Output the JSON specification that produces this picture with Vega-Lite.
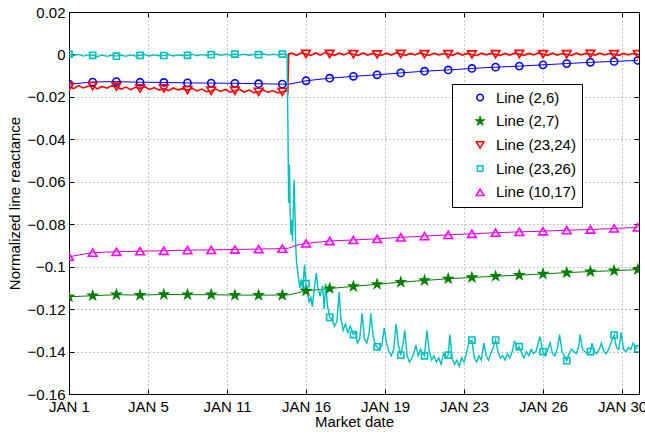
{
  "$schema": "https://vega.github.io/schema/vega-lite/v6.json",
  "width": 570,
  "height": 382,
  "autosize": "none",
  "padding": {"left": 69, "top": 12, "right": 6, "bottom": 41},
  "background": "white",
  "config": {
    "font": "Liberation Sans",
    "view": {"stroke": "black", "strokeWidth": 1},
    "axis": {
      "labelFont": "Liberation Sans",
      "labelFontSize": 15,
      "labelColor": "black",
      "titleFont": "Liberation Sans",
      "titleFontSize": 15,
      "titleFontWeight": "normal",
      "titleColor": "black",
      "domainColor": "black",
      "tickColor": "black",
      "gridColor": "#8a8a8a",
      "gridDash": [1, 3],
      "gridWidth": 1
    },
    "legend": {
      "orient": "none",
      "legendX": 383,
      "legendY": 72,
      "labelFont": "Liberation Sans",
      "labelFontSize": 15,
      "labelColor": "black",
      "strokeColor": "black",
      "fillColor": "white",
      "padding": 6,
      "symbolOffset": 14.6,
      "labelOffset": 8.3,
      "rowPadding": 7.7,
      "symbolSize": 42,
      "symbolStrokeWidth": 1.5
    }
  },
  "datasets": {
    "lines": [
      {"h": 0, "v": -0.0140, "s": "Line (2,6)"},
      {"h": 30, "v": -0.0130, "s": "Line (2,6)"},
      {"h": 60, "v": -0.0128, "s": "Line (2,6)"},
      {"h": 90, "v": -0.0131, "s": "Line (2,6)"},
      {"h": 120, "v": -0.0132, "s": "Line (2,6)"},
      {"h": 150, "v": -0.0134, "s": "Line (2,6)"},
      {"h": 180, "v": -0.0135, "s": "Line (2,6)"},
      {"h": 210, "v": -0.0136, "s": "Line (2,6)"},
      {"h": 240, "v": -0.0138, "s": "Line (2,6)"},
      {"h": 270, "v": -0.0140, "s": "Line (2,6)"},
      {"h": 278, "v": -0.0141, "s": "Line (2,6)"},
      {"h": 300, "v": -0.0124, "s": "Line (2,6)"},
      {"h": 330, "v": -0.0112, "s": "Line (2,6)"},
      {"h": 360, "v": -0.0103, "s": "Line (2,6)"},
      {"h": 390, "v": -0.0096, "s": "Line (2,6)"},
      {"h": 420, "v": -0.0087, "s": "Line (2,6)"},
      {"h": 450, "v": -0.0079, "s": "Line (2,6)"},
      {"h": 480, "v": -0.0073, "s": "Line (2,6)"},
      {"h": 510, "v": -0.0066, "s": "Line (2,6)"},
      {"h": 540, "v": -0.0060, "s": "Line (2,6)"},
      {"h": 570, "v": -0.0055, "s": "Line (2,6)"},
      {"h": 600, "v": -0.0049, "s": "Line (2,6)"},
      {"h": 630, "v": -0.0043, "s": "Line (2,6)"},
      {"h": 660, "v": -0.0037, "s": "Line (2,6)"},
      {"h": 690, "v": -0.0033, "s": "Line (2,6)"},
      {"h": 720, "v": -0.0028, "s": "Line (2,6)"},

      {"h": 0, "v": -0.1142, "s": "Line (2,7)"},
      {"h": 30, "v": -0.1137, "s": "Line (2,7)"},
      {"h": 60, "v": -0.1132, "s": "Line (2,7)"},
      {"h": 90, "v": -0.1134, "s": "Line (2,7)"},
      {"h": 120, "v": -0.1131, "s": "Line (2,7)"},
      {"h": 150, "v": -0.1132, "s": "Line (2,7)"},
      {"h": 180, "v": -0.1132, "s": "Line (2,7)"},
      {"h": 210, "v": -0.1134, "s": "Line (2,7)"},
      {"h": 240, "v": -0.1134, "s": "Line (2,7)"},
      {"h": 270, "v": -0.1134, "s": "Line (2,7)"},
      {"h": 278, "v": -0.1133, "s": "Line (2,7)"},
      {"h": 300, "v": -0.1114, "s": "Line (2,7)"},
      {"h": 330, "v": -0.1103, "s": "Line (2,7)"},
      {"h": 360, "v": -0.1093, "s": "Line (2,7)"},
      {"h": 390, "v": -0.1083, "s": "Line (2,7)"},
      {"h": 420, "v": -0.1073, "s": "Line (2,7)"},
      {"h": 450, "v": -0.1065, "s": "Line (2,7)"},
      {"h": 480, "v": -0.1057, "s": "Line (2,7)"},
      {"h": 510, "v": -0.1051, "s": "Line (2,7)"},
      {"h": 540, "v": -0.1045, "s": "Line (2,7)"},
      {"h": 570, "v": -0.1040, "s": "Line (2,7)"},
      {"h": 600, "v": -0.1034, "s": "Line (2,7)"},
      {"h": 630, "v": -0.1028, "s": "Line (2,7)"},
      {"h": 660, "v": -0.1023, "s": "Line (2,7)"},
      {"h": 690, "v": -0.1019, "s": "Line (2,7)"},
      {"h": 720, "v": -0.1014, "s": "Line (2,7)"},

      {"h": 0, "v": -0.0152, "s": "Line (23,24)"},
      {"h": 6, "v": -0.0161, "s": "Line (23,24)"},
      {"h": 12, "v": -0.0147, "s": "Line (23,24)"},
      {"h": 18, "v": -0.0158, "s": "Line (23,24)"},
      {"h": 24, "v": -0.0150, "s": "Line (23,24)"},
      {"h": 30, "v": -0.0149, "s": "Line (23,24)"},
      {"h": 36, "v": -0.0162, "s": "Line (23,24)"},
      {"h": 42, "v": -0.0151, "s": "Line (23,24)"},
      {"h": 48, "v": -0.0159, "s": "Line (23,24)"},
      {"h": 54, "v": -0.0148, "s": "Line (23,24)"},
      {"h": 60, "v": -0.0152, "s": "Line (23,24)"},
      {"h": 66, "v": -0.0163, "s": "Line (23,24)"},
      {"h": 72, "v": -0.0154, "s": "Line (23,24)"},
      {"h": 78, "v": -0.0166, "s": "Line (23,24)"},
      {"h": 84, "v": -0.0155, "s": "Line (23,24)"},
      {"h": 90, "v": -0.0160, "s": "Line (23,24)"},
      {"h": 96, "v": -0.0152, "s": "Line (23,24)"},
      {"h": 102, "v": -0.0165, "s": "Line (23,24)"},
      {"h": 108, "v": -0.0156, "s": "Line (23,24)"},
      {"h": 114, "v": -0.0168, "s": "Line (23,24)"},
      {"h": 120, "v": -0.0160, "s": "Line (23,24)"},
      {"h": 126, "v": -0.0170, "s": "Line (23,24)"},
      {"h": 132, "v": -0.0158, "s": "Line (23,24)"},
      {"h": 138, "v": -0.0167, "s": "Line (23,24)"},
      {"h": 144, "v": -0.0161, "s": "Line (23,24)"},
      {"h": 150, "v": -0.0168, "s": "Line (23,24)"},
      {"h": 156, "v": -0.0160, "s": "Line (23,24)"},
      {"h": 162, "v": -0.0172, "s": "Line (23,24)"},
      {"h": 168, "v": -0.0163, "s": "Line (23,24)"},
      {"h": 174, "v": -0.0175, "s": "Line (23,24)"},
      {"h": 180, "v": -0.0171, "s": "Line (23,24)"},
      {"h": 186, "v": -0.0163, "s": "Line (23,24)"},
      {"h": 192, "v": -0.0174, "s": "Line (23,24)"},
      {"h": 198, "v": -0.0165, "s": "Line (23,24)"},
      {"h": 204, "v": -0.0178, "s": "Line (23,24)"},
      {"h": 210, "v": -0.0171, "s": "Line (23,24)"},
      {"h": 216, "v": -0.0165, "s": "Line (23,24)"},
      {"h": 222, "v": -0.0177, "s": "Line (23,24)"},
      {"h": 228, "v": -0.0168, "s": "Line (23,24)"},
      {"h": 234, "v": -0.0180, "s": "Line (23,24)"},
      {"h": 240, "v": -0.0176, "s": "Line (23,24)"},
      {"h": 246, "v": -0.0168, "s": "Line (23,24)"},
      {"h": 252, "v": -0.0179, "s": "Line (23,24)"},
      {"h": 258, "v": -0.0170, "s": "Line (23,24)"},
      {"h": 264, "v": -0.0181, "s": "Line (23,24)"},
      {"h": 270, "v": -0.0176, "s": "Line (23,24)"},
      {"h": 276, "v": -0.0172, "s": "Line (23,24)"},
      {"h": 277, "v": -0.0178, "s": "Line (23,24)"},
      {"h": 278, "v": 0.0003, "s": "Line (23,24)"},
      {"h": 282, "v": 0.0006, "s": "Line (23,24)"},
      {"h": 288, "v": -0.0004, "s": "Line (23,24)"},
      {"h": 294, "v": 0.0008, "s": "Line (23,24)"},
      {"h": 300, "v": 0.0002, "s": "Line (23,24)"},
      {"h": 306, "v": -0.0005, "s": "Line (23,24)"},
      {"h": 312, "v": 0.0007, "s": "Line (23,24)"},
      {"h": 318, "v": -0.0003, "s": "Line (23,24)"},
      {"h": 324, "v": 0.0009, "s": "Line (23,24)"},
      {"h": 330, "v": 0.0002, "s": "Line (23,24)"},
      {"h": 336, "v": -0.0004, "s": "Line (23,24)"},
      {"h": 342, "v": 0.0006, "s": "Line (23,24)"},
      {"h": 348, "v": -0.0002, "s": "Line (23,24)"},
      {"h": 354, "v": 0.0008, "s": "Line (23,24)"},
      {"h": 360, "v": 0.0001, "s": "Line (23,24)"},
      {"h": 366, "v": -0.0005, "s": "Line (23,24)"},
      {"h": 372, "v": 0.0007, "s": "Line (23,24)"},
      {"h": 378, "v": -0.0003, "s": "Line (23,24)"},
      {"h": 384, "v": 0.0005, "s": "Line (23,24)"},
      {"h": 390, "v": 0.0000, "s": "Line (23,24)"},
      {"h": 396, "v": -0.0004, "s": "Line (23,24)"},
      {"h": 402, "v": 0.0006, "s": "Line (23,24)"},
      {"h": 408, "v": -0.0003, "s": "Line (23,24)"},
      {"h": 414, "v": 0.0008, "s": "Line (23,24)"},
      {"h": 420, "v": 0.0002, "s": "Line (23,24)"},
      {"h": 426, "v": -0.0004, "s": "Line (23,24)"},
      {"h": 432, "v": 0.0005, "s": "Line (23,24)"},
      {"h": 438, "v": -0.0002, "s": "Line (23,24)"},
      {"h": 444, "v": 0.0007, "s": "Line (23,24)"},
      {"h": 450, "v": 0.0001, "s": "Line (23,24)"},
      {"h": 456, "v": -0.0005, "s": "Line (23,24)"},
      {"h": 462, "v": 0.0006, "s": "Line (23,24)"},
      {"h": 468, "v": -0.0002, "s": "Line (23,24)"},
      {"h": 474, "v": 0.0004, "s": "Line (23,24)"},
      {"h": 480, "v": 0.0001, "s": "Line (23,24)"},
      {"h": 486, "v": -0.0004, "s": "Line (23,24)"},
      {"h": 492, "v": 0.0007, "s": "Line (23,24)"},
      {"h": 498, "v": -0.0003, "s": "Line (23,24)"},
      {"h": 504, "v": 0.0005, "s": "Line (23,24)"},
      {"h": 510, "v": 0.0000, "s": "Line (23,24)"},
      {"h": 516, "v": -0.0005, "s": "Line (23,24)"},
      {"h": 522, "v": 0.0006, "s": "Line (23,24)"},
      {"h": 528, "v": -0.0002, "s": "Line (23,24)"},
      {"h": 534, "v": 0.0004, "s": "Line (23,24)"},
      {"h": 540, "v": 0.0001, "s": "Line (23,24)"},
      {"h": 546, "v": -0.0004, "s": "Line (23,24)"},
      {"h": 552, "v": 0.0005, "s": "Line (23,24)"},
      {"h": 558, "v": -0.0003, "s": "Line (23,24)"},
      {"h": 564, "v": 0.0006, "s": "Line (23,24)"},
      {"h": 570, "v": 0.0002, "s": "Line (23,24)"},
      {"h": 576, "v": -0.0004, "s": "Line (23,24)"},
      {"h": 582, "v": 0.0005, "s": "Line (23,24)"},
      {"h": 588, "v": -0.0002, "s": "Line (23,24)"},
      {"h": 594, "v": 0.0007, "s": "Line (23,24)"},
      {"h": 600, "v": 0.0001, "s": "Line (23,24)"},
      {"h": 606, "v": -0.0004, "s": "Line (23,24)"},
      {"h": 612, "v": 0.0006, "s": "Line (23,24)"},
      {"h": 618, "v": -0.0003, "s": "Line (23,24)"},
      {"h": 624, "v": 0.0004, "s": "Line (23,24)"},
      {"h": 630, "v": 0.0001, "s": "Line (23,24)"},
      {"h": 636, "v": -0.0005, "s": "Line (23,24)"},
      {"h": 642, "v": 0.0006, "s": "Line (23,24)"},
      {"h": 648, "v": -0.0002, "s": "Line (23,24)"},
      {"h": 654, "v": 0.0005, "s": "Line (23,24)"},
      {"h": 660, "v": 0.0002, "s": "Line (23,24)"},
      {"h": 666, "v": -0.0003, "s": "Line (23,24)"},
      {"h": 672, "v": 0.0006, "s": "Line (23,24)"},
      {"h": 678, "v": -0.0002, "s": "Line (23,24)"},
      {"h": 684, "v": 0.0004, "s": "Line (23,24)"},
      {"h": 690, "v": 0.0001, "s": "Line (23,24)"},
      {"h": 696, "v": -0.0004, "s": "Line (23,24)"},
      {"h": 702, "v": 0.0005, "s": "Line (23,24)"},
      {"h": 708, "v": -0.0002, "s": "Line (23,24)"},
      {"h": 714, "v": 0.0004, "s": "Line (23,24)"},
      {"h": 720, "v": 0.0001, "s": "Line (23,24)"},

      {"h": 0, "v": 0.0002, "s": "Line (23,26)"},
      {"h": 6, "v": -0.0006, "s": "Line (23,26)"},
      {"h": 12, "v": 0.0000, "s": "Line (23,26)"},
      {"h": 18, "v": -0.0008, "s": "Line (23,26)"},
      {"h": 24, "v": -0.0002, "s": "Line (23,26)"},
      {"h": 30, "v": -0.0004, "s": "Line (23,26)"},
      {"h": 36, "v": -0.0010, "s": "Line (23,26)"},
      {"h": 42, "v": -0.0003, "s": "Line (23,26)"},
      {"h": 48, "v": -0.0009, "s": "Line (23,26)"},
      {"h": 54, "v": -0.0004, "s": "Line (23,26)"},
      {"h": 60, "v": -0.0008, "s": "Line (23,26)"},
      {"h": 66, "v": -0.0003, "s": "Line (23,26)"},
      {"h": 72, "v": -0.0009, "s": "Line (23,26)"},
      {"h": 78, "v": -0.0002, "s": "Line (23,26)"},
      {"h": 84, "v": -0.0007, "s": "Line (23,26)"},
      {"h": 90, "v": -0.0004, "s": "Line (23,26)"},
      {"h": 96, "v": -0.0001, "s": "Line (23,26)"},
      {"h": 102, "v": -0.0007, "s": "Line (23,26)"},
      {"h": 108, "v": -0.0002, "s": "Line (23,26)"},
      {"h": 114, "v": -0.0006, "s": "Line (23,26)"},
      {"h": 120, "v": -0.0005, "s": "Line (23,26)"},
      {"h": 126, "v": -0.0001, "s": "Line (23,26)"},
      {"h": 132, "v": -0.0007, "s": "Line (23,26)"},
      {"h": 138, "v": -0.0002, "s": "Line (23,26)"},
      {"h": 144, "v": -0.0005, "s": "Line (23,26)"},
      {"h": 150, "v": -0.0004, "s": "Line (23,26)"},
      {"h": 156, "v": 0.0000, "s": "Line (23,26)"},
      {"h": 162, "v": -0.0006, "s": "Line (23,26)"},
      {"h": 168, "v": -0.0001, "s": "Line (23,26)"},
      {"h": 174, "v": -0.0004, "s": "Line (23,26)"},
      {"h": 180, "v": -0.0001, "s": "Line (23,26)"},
      {"h": 186, "v": 0.0002, "s": "Line (23,26)"},
      {"h": 192, "v": -0.0004, "s": "Line (23,26)"},
      {"h": 198, "v": 0.0001, "s": "Line (23,26)"},
      {"h": 204, "v": -0.0003, "s": "Line (23,26)"},
      {"h": 210, "v": 0.0002, "s": "Line (23,26)"},
      {"h": 216, "v": -0.0003, "s": "Line (23,26)"},
      {"h": 222, "v": 0.0001, "s": "Line (23,26)"},
      {"h": 228, "v": -0.0004, "s": "Line (23,26)"},
      {"h": 234, "v": 0.0000, "s": "Line (23,26)"},
      {"h": 240, "v": -0.0001, "s": "Line (23,26)"},
      {"h": 246, "v": 0.0003, "s": "Line (23,26)"},
      {"h": 252, "v": -0.0003, "s": "Line (23,26)"},
      {"h": 258, "v": 0.0001, "s": "Line (23,26)"},
      {"h": 264, "v": -0.0002, "s": "Line (23,26)"},
      {"h": 270, "v": 0.0002, "s": "Line (23,26)"},
      {"h": 276, "v": -0.0001, "s": "Line (23,26)"},
      {"h": 277, "v": -0.0300, "s": "Line (23,26)"},
      {"h": 278, "v": -0.0700, "s": "Line (23,26)"},
      {"h": 279, "v": -0.0520, "s": "Line (23,26)"},
      {"h": 280, "v": -0.0750, "s": "Line (23,26)"},
      {"h": 281, "v": -0.0850, "s": "Line (23,26)"},
      {"h": 282, "v": -0.0780, "s": "Line (23,26)"},
      {"h": 283, "v": -0.0880, "s": "Line (23,26)"},
      {"h": 284, "v": -0.0700, "s": "Line (23,26)"},
      {"h": 285, "v": -0.0590, "s": "Line (23,26)"},
      {"h": 286, "v": -0.0750, "s": "Line (23,26)"},
      {"h": 287, "v": -0.0900, "s": "Line (23,26)"},
      {"h": 288, "v": -0.0980, "s": "Line (23,26)"},
      {"h": 290, "v": -0.1040, "s": "Line (23,26)"},
      {"h": 292, "v": -0.1100, "s": "Line (23,26)"},
      {"h": 294, "v": -0.1060, "s": "Line (23,26)"},
      {"h": 296, "v": -0.1120, "s": "Line (23,26)"},
      {"h": 298, "v": -0.0990, "s": "Line (23,26)"},
      {"h": 300, "v": -0.1080, "s": "Line (23,26)"},
      {"h": 302, "v": -0.1120, "s": "Line (23,26)"},
      {"h": 304, "v": -0.1170, "s": "Line (23,26)"},
      {"h": 306, "v": -0.1140, "s": "Line (23,26)"},
      {"h": 308, "v": -0.1190, "s": "Line (23,26)"},
      {"h": 310, "v": -0.1120, "s": "Line (23,26)"},
      {"h": 312, "v": -0.1060, "s": "Line (23,26)"},
      {"h": 313, "v": -0.1030, "s": "Line (23,26)"},
      {"h": 315, "v": -0.1100, "s": "Line (23,26)"},
      {"h": 318, "v": -0.1140, "s": "Line (23,26)"},
      {"h": 321, "v": -0.1090, "s": "Line (23,26)"},
      {"h": 323, "v": -0.1200, "s": "Line (23,26)"},
      {"h": 325, "v": -0.1080, "s": "Line (23,26)"},
      {"h": 327, "v": -0.1180, "s": "Line (23,26)"},
      {"h": 330, "v": -0.1239, "s": "Line (23,26)"},
      {"h": 333, "v": -0.1250, "s": "Line (23,26)"},
      {"h": 336, "v": -0.1280, "s": "Line (23,26)"},
      {"h": 339, "v": -0.1260, "s": "Line (23,26)"},
      {"h": 342, "v": -0.1120, "s": "Line (23,26)"},
      {"h": 344, "v": -0.1240, "s": "Line (23,26)"},
      {"h": 347, "v": -0.1300, "s": "Line (23,26)"},
      {"h": 350, "v": -0.1270, "s": "Line (23,26)"},
      {"h": 353, "v": -0.1310, "s": "Line (23,26)"},
      {"h": 356, "v": -0.1280, "s": "Line (23,26)"},
      {"h": 360, "v": -0.1320, "s": "Line (23,26)"},
      {"h": 363, "v": -0.1310, "s": "Line (23,26)"},
      {"h": 365, "v": -0.1360, "s": "Line (23,26)"},
      {"h": 368, "v": -0.1340, "s": "Line (23,26)"},
      {"h": 371, "v": -0.1220, "s": "Line (23,26)"},
      {"h": 374, "v": -0.1340, "s": "Line (23,26)"},
      {"h": 377, "v": -0.1360, "s": "Line (23,26)"},
      {"h": 380, "v": -0.1310, "s": "Line (23,26)"},
      {"h": 382, "v": -0.1220, "s": "Line (23,26)"},
      {"h": 385, "v": -0.1330, "s": "Line (23,26)"},
      {"h": 388, "v": -0.1370, "s": "Line (23,26)"},
      {"h": 390, "v": -0.1378, "s": "Line (23,26)"},
      {"h": 393, "v": -0.1390, "s": "Line (23,26)"},
      {"h": 396, "v": -0.1370, "s": "Line (23,26)"},
      {"h": 399, "v": -0.1290, "s": "Line (23,26)"},
      {"h": 402, "v": -0.1360, "s": "Line (23,26)"},
      {"h": 405, "v": -0.1400, "s": "Line (23,26)"},
      {"h": 408, "v": -0.1420, "s": "Line (23,26)"},
      {"h": 411, "v": -0.1390, "s": "Line (23,26)"},
      {"h": 414, "v": -0.1270, "s": "Line (23,26)"},
      {"h": 417, "v": -0.1370, "s": "Line (23,26)"},
      {"h": 420, "v": -0.1417, "s": "Line (23,26)"},
      {"h": 423, "v": -0.1360, "s": "Line (23,26)"},
      {"h": 425, "v": -0.1300, "s": "Line (23,26)"},
      {"h": 428, "v": -0.1420, "s": "Line (23,26)"},
      {"h": 431, "v": -0.1450, "s": "Line (23,26)"},
      {"h": 434, "v": -0.1430, "s": "Line (23,26)"},
      {"h": 437, "v": -0.1400, "s": "Line (23,26)"},
      {"h": 439, "v": -0.1370, "s": "Line (23,26)"},
      {"h": 442, "v": -0.1420, "s": "Line (23,26)"},
      {"h": 445, "v": -0.1390, "s": "Line (23,26)"},
      {"h": 448, "v": -0.1410, "s": "Line (23,26)"},
      {"h": 450, "v": -0.1420, "s": "Line (23,26)"},
      {"h": 453, "v": -0.1300, "s": "Line (23,26)"},
      {"h": 456, "v": -0.1400, "s": "Line (23,26)"},
      {"h": 459, "v": -0.1440, "s": "Line (23,26)"},
      {"h": 462, "v": -0.1420, "s": "Line (23,26)"},
      {"h": 465, "v": -0.1450, "s": "Line (23,26)"},
      {"h": 468, "v": -0.1430, "s": "Line (23,26)"},
      {"h": 471, "v": -0.1460, "s": "Line (23,26)"},
      {"h": 474, "v": -0.1410, "s": "Line (23,26)"},
      {"h": 477, "v": -0.1430, "s": "Line (23,26)"},
      {"h": 480, "v": -0.1417, "s": "Line (23,26)"},
      {"h": 482, "v": -0.1320, "s": "Line (23,26)"},
      {"h": 485, "v": -0.1430, "s": "Line (23,26)"},
      {"h": 488, "v": -0.1460, "s": "Line (23,26)"},
      {"h": 491, "v": -0.1440, "s": "Line (23,26)"},
      {"h": 494, "v": -0.1470, "s": "Line (23,26)"},
      {"h": 497, "v": -0.1430, "s": "Line (23,26)"},
      {"h": 500, "v": -0.1450, "s": "Line (23,26)"},
      {"h": 503, "v": -0.1410, "s": "Line (23,26)"},
      {"h": 506, "v": -0.1360, "s": "Line (23,26)"},
      {"h": 508, "v": -0.1350, "s": "Line (23,26)"},
      {"h": 510, "v": -0.1346, "s": "Line (23,26)"},
      {"h": 513, "v": -0.1430, "s": "Line (23,26)"},
      {"h": 516, "v": -0.1450, "s": "Line (23,26)"},
      {"h": 519, "v": -0.1420, "s": "Line (23,26)"},
      {"h": 522, "v": -0.1440, "s": "Line (23,26)"},
      {"h": 525, "v": -0.1360, "s": "Line (23,26)"},
      {"h": 528, "v": -0.1420, "s": "Line (23,26)"},
      {"h": 531, "v": -0.1440, "s": "Line (23,26)"},
      {"h": 534, "v": -0.1410, "s": "Line (23,26)"},
      {"h": 537, "v": -0.1380, "s": "Line (23,26)"},
      {"h": 540, "v": -0.1346, "s": "Line (23,26)"},
      {"h": 543, "v": -0.1400, "s": "Line (23,26)"},
      {"h": 546, "v": -0.1430, "s": "Line (23,26)"},
      {"h": 549, "v": -0.1420, "s": "Line (23,26)"},
      {"h": 552, "v": -0.1440, "s": "Line (23,26)"},
      {"h": 555, "v": -0.1410, "s": "Line (23,26)"},
      {"h": 558, "v": -0.1430, "s": "Line (23,26)"},
      {"h": 561, "v": -0.1400, "s": "Line (23,26)"},
      {"h": 564, "v": -0.1350, "s": "Line (23,26)"},
      {"h": 567, "v": -0.1390, "s": "Line (23,26)"},
      {"h": 570, "v": -0.1377, "s": "Line (23,26)"},
      {"h": 573, "v": -0.1410, "s": "Line (23,26)"},
      {"h": 576, "v": -0.1430, "s": "Line (23,26)"},
      {"h": 579, "v": -0.1400, "s": "Line (23,26)"},
      {"h": 582, "v": -0.1420, "s": "Line (23,26)"},
      {"h": 585, "v": -0.1390, "s": "Line (23,26)"},
      {"h": 588, "v": -0.1410, "s": "Line (23,26)"},
      {"h": 591, "v": -0.1400, "s": "Line (23,26)"},
      {"h": 594, "v": -0.1360, "s": "Line (23,26)"},
      {"h": 596, "v": -0.1330, "s": "Line (23,26)"},
      {"h": 600, "v": -0.1400, "s": "Line (23,26)"},
      {"h": 603, "v": -0.1420, "s": "Line (23,26)"},
      {"h": 606, "v": -0.1390, "s": "Line (23,26)"},
      {"h": 609, "v": -0.1360, "s": "Line (23,26)"},
      {"h": 612, "v": -0.1410, "s": "Line (23,26)"},
      {"h": 615, "v": -0.1420, "s": "Line (23,26)"},
      {"h": 618, "v": -0.1390, "s": "Line (23,26)"},
      {"h": 621, "v": -0.1320, "s": "Line (23,26)"},
      {"h": 624, "v": -0.1400, "s": "Line (23,26)"},
      {"h": 627, "v": -0.1420, "s": "Line (23,26)"},
      {"h": 630, "v": -0.1443, "s": "Line (23,26)"},
      {"h": 633, "v": -0.1410, "s": "Line (23,26)"},
      {"h": 636, "v": -0.1390, "s": "Line (23,26)"},
      {"h": 639, "v": -0.1400, "s": "Line (23,26)"},
      {"h": 642, "v": -0.1410, "s": "Line (23,26)"},
      {"h": 645, "v": -0.1380, "s": "Line (23,26)"},
      {"h": 647, "v": -0.1320, "s": "Line (23,26)"},
      {"h": 650, "v": -0.1390, "s": "Line (23,26)"},
      {"h": 653, "v": -0.1400, "s": "Line (23,26)"},
      {"h": 656, "v": -0.1410, "s": "Line (23,26)"},
      {"h": 660, "v": -0.1400, "s": "Line (23,26)"},
      {"h": 662, "v": -0.1360, "s": "Line (23,26)"},
      {"h": 665, "v": -0.1400, "s": "Line (23,26)"},
      {"h": 668, "v": -0.1410, "s": "Line (23,26)"},
      {"h": 671, "v": -0.1390, "s": "Line (23,26)"},
      {"h": 674, "v": -0.1360, "s": "Line (23,26)"},
      {"h": 677, "v": -0.1400, "s": "Line (23,26)"},
      {"h": 680, "v": -0.1410, "s": "Line (23,26)"},
      {"h": 683, "v": -0.1390, "s": "Line (23,26)"},
      {"h": 686, "v": -0.1360, "s": "Line (23,26)"},
      {"h": 690, "v": -0.1322, "s": "Line (23,26)"},
      {"h": 693, "v": -0.1380, "s": "Line (23,26)"},
      {"h": 696, "v": -0.1390, "s": "Line (23,26)"},
      {"h": 699, "v": -0.1310, "s": "Line (23,26)"},
      {"h": 702, "v": -0.1390, "s": "Line (23,26)"},
      {"h": 705, "v": -0.1400, "s": "Line (23,26)"},
      {"h": 708, "v": -0.1380, "s": "Line (23,26)"},
      {"h": 711, "v": -0.1390, "s": "Line (23,26)"},
      {"h": 714, "v": -0.1360, "s": "Line (23,26)"},
      {"h": 717, "v": -0.1380, "s": "Line (23,26)"},
      {"h": 720, "v": -0.1388, "s": "Line (23,26)"},

      {"h": 0, "v": -0.0953, "s": "Line (10,17)"},
      {"h": 30, "v": -0.0934, "s": "Line (10,17)"},
      {"h": 60, "v": -0.0930, "s": "Line (10,17)"},
      {"h": 90, "v": -0.0927, "s": "Line (10,17)"},
      {"h": 120, "v": -0.0925, "s": "Line (10,17)"},
      {"h": 150, "v": -0.0922, "s": "Line (10,17)"},
      {"h": 180, "v": -0.0921, "s": "Line (10,17)"},
      {"h": 210, "v": -0.0919, "s": "Line (10,17)"},
      {"h": 240, "v": -0.0917, "s": "Line (10,17)"},
      {"h": 270, "v": -0.0915, "s": "Line (10,17)"},
      {"h": 278, "v": -0.0913, "s": "Line (10,17)"},
      {"h": 290, "v": -0.0897, "s": "Line (10,17)"},
      {"h": 300, "v": -0.0890, "s": "Line (10,17)"},
      {"h": 330, "v": -0.0879, "s": "Line (10,17)"},
      {"h": 360, "v": -0.0874, "s": "Line (10,17)"},
      {"h": 390, "v": -0.0869, "s": "Line (10,17)"},
      {"h": 420, "v": -0.0862, "s": "Line (10,17)"},
      {"h": 450, "v": -0.0856, "s": "Line (10,17)"},
      {"h": 480, "v": -0.0850, "s": "Line (10,17)"},
      {"h": 510, "v": -0.0845, "s": "Line (10,17)"},
      {"h": 540, "v": -0.0840, "s": "Line (10,17)"},
      {"h": 570, "v": -0.0836, "s": "Line (10,17)"},
      {"h": 600, "v": -0.0833, "s": "Line (10,17)"},
      {"h": 630, "v": -0.0828, "s": "Line (10,17)"},
      {"h": 660, "v": -0.0825, "s": "Line (10,17)"},
      {"h": 690, "v": -0.0820, "s": "Line (10,17)"},
      {"h": 720, "v": -0.0815, "s": "Line (10,17)"}
    ]
  },
  "data": {"name": "lines"},
  "resolve": {"axis": {"x": "independent", "y": "independent"}},
  "layer": [
    {
      "transform": [{"filter": "datum.s === 'Line (2,6)'"}],
      "mark": {"type": "line", "clip": true, "stroke": "#0000ff", "strokeWidth": 1},
      "encoding": {
        "x": {
          "field": "h", "type": "quantitative",
          "scale": {"domain": [0, 721.5], "nice": false, "zero": false},
          "axis": {
            "orient": "bottom",
            "values": [0, 100, 200, 300, 400, 500, 600, 700],
            "labelExpr": "['JAN 1','JAN 5','JAN 11','JAN 16','JAN 19','JAN 23','JAN 26','JAN 30'][round(datum.value/100)]",
            "labelFlush": false,
            "labelOverlap": false,
            "labelBaseline": "alphabetic",
            "labelPadding": 22.7,
            "tickSize": -5,
            "grid": true,
            "title": "Market date",
            "titleBaseline": "alphabetic",
            "titleY": 32.7,
            "titleX": 285
          }
        },
        "y": {
          "field": "v", "type": "quantitative",
          "scale": {"domain": [-0.16, 0.02], "nice": false, "zero": false},
          "axis": {
            "orient": "left",
            "values": [-0.16, -0.14, -0.12, -0.1, -0.08, -0.06, -0.04, -0.02, 0, 0.02],
            "format": "~g",
            "labelPadding": 9,
            "tickSize": -5,
            "grid": true,
            "title": "Normalized line reactance",
            "titleBaseline": "alphabetic",
            "titleX": -49.7,
            "titleY": 191
          }
        }
      }
    },
    {
      "transform": [{"filter": "datum.s === 'Line (2,7)'"}],
      "mark": {"type": "line", "clip": true, "stroke": "#007f00", "strokeWidth": 1},
      "encoding": {
        "x": {"field": "h", "type": "quantitative", "axis": null},
        "y": {"field": "v", "type": "quantitative", "axis": null}
      }
    },
    {
      "transform": [{"filter": "datum.s === 'Line (23,24)'"}],
      "mark": {"type": "line", "clip": true, "stroke": "#ff0000", "strokeWidth": 1.6},
      "encoding": {
        "x": {"field": "h", "type": "quantitative", "axis": null},
        "y": {"field": "v", "type": "quantitative", "axis": null}
      }
    },
    {
      "transform": [{"filter": "datum.s === 'Line (23,26)'"}],
      "mark": {"type": "line", "clip": true, "stroke": "#00bfbf", "strokeWidth": 1.4},
      "encoding": {
        "x": {"field": "h", "type": "quantitative", "axis": null},
        "y": {"field": "v", "type": "quantitative", "axis": null}
      }
    },
    {
      "transform": [{"filter": "datum.s === 'Line (10,17)'"}],
      "mark": {"type": "line", "clip": true, "stroke": "#d000d0", "strokeWidth": 1},
      "encoding": {
        "x": {"field": "h", "type": "quantitative", "axis": null},
        "y": {"field": "v", "type": "quantitative", "axis": null}
      }
    },
    {
      "transform": [{"filter": "datum.h % 30 === 0"}],
      "mark": {"type": "point", "filled": false, "size": 52, "strokeWidth": 1.6, "opacity": 1, "clip": true},
      "encoding": {
        "x": {"field": "h", "type": "quantitative", "axis": null},
        "y": {"field": "v", "type": "quantitative", "axis": null},
        "color": {
          "field": "s", "type": "nominal", "title": null,
          "scale": {
            "domain": ["Line (2,6)", "Line (2,7)", "Line (23,24)", "Line (23,26)", "Line (10,17)"],
            "range": ["#0000ff", "#007f00", "#ff0000", "#00bfbf", "#ff00ff"]
          }
        },
        "fill": {
          "field": "s", "type": "nominal", "title": null,
          "scale": {
            "domain": ["Line (2,6)", "Line (2,7)", "Line (23,24)", "Line (23,26)", "Line (10,17)"],
            "range": ["#ffffff00", "#007f00", "#ffffff00", "#ffffff00", "#ffffff00"]
          }
        },
        "shape": {
          "field": "s", "type": "nominal", "title": null,
          "scale": {
            "domain": ["Line (2,6)", "Line (2,7)", "Line (23,24)", "Line (23,26)", "Line (10,17)"],
            "range": [
              "circle",
              "M0,-1.2L0.269,-0.371L1.141,-0.371L0.436,0.141L0.705,0.971L0,0.459L-0.705,0.971L-0.436,0.141L-1.141,-0.371L-0.269,-0.371Z",
              "M0,1L1.2,-1L-1.2,-1Z",
              "M-0.85,-0.85L0.85,-0.85L0.85,0.85L-0.85,0.85Z",
              "M0,-1L1.2,1L-1.2,1Z"
            ]
          }
        }
      }
    },
    {
      "mark": {"type": "point", "opacity": 0},
      "encoding": {
        "x": {
          "field": "h", "type": "quantitative",
          "axis": {
            "orient": "top",
            "values": [0, 100, 200, 300, 400, 500, 600, 700],
            "labels": false, "grid": false, "tickSize": -5, "title": null
          }
        },
        "y": {
          "field": "v", "type": "quantitative",
          "axis": {
            "orient": "right",
            "values": [-0.16, -0.14, -0.12, -0.1, -0.08, -0.06, -0.04, -0.02, 0, 0.02],
            "labels": false, "grid": false, "tickSize": -5, "title": null
          }
        }
      }
    }
  ]
}
